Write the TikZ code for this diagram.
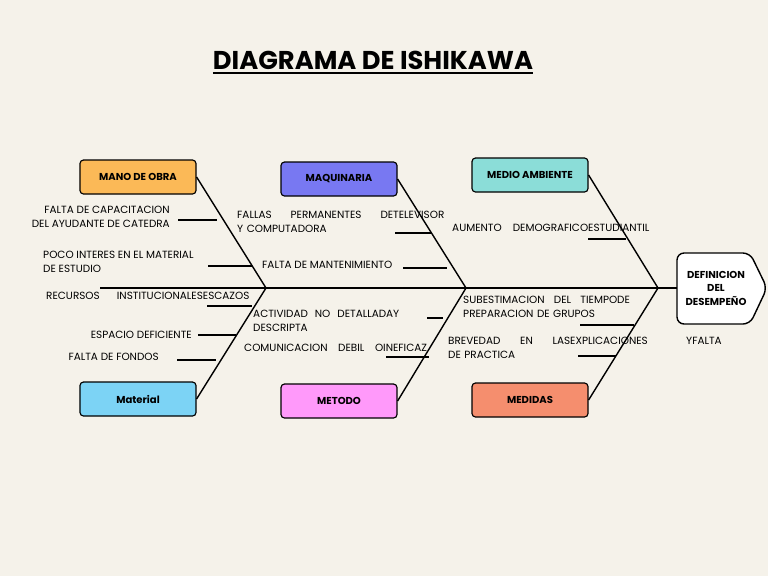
\documentclass[tikz,border=0pt]{standalone}
\usepackage{fontspec}
\setmainfont{Poppins}
\definecolor{bgcol}{HTML}{F5F2EA}
\definecolor{obra}{HTML}{FBB957}
\definecolor{maqui}{HTML}{7878F2}
\definecolor{medio}{HTML}{8BDDD8}
\definecolor{mater}{HTML}{7CD3F5}
\definecolor{meto}{HTML}{FF99FA}
\definecolor{medi}{HTML}{F58E6E}
\newcommand{\spreadline}[1]{\hbox to\linewidth{#1}}
\tikzset{
  catbox/.style={draw, line width=1pt, rounded corners=3pt, minimum width=3.48cm, minimum height=1.02cm, font=\fontsize{8.6}{10}\selectfont\bfseries},
  bone/.style={line width=1.2pt},
  tick/.style={line width=1pt},
  cause/.style={inner sep=0pt, align=left, font=\fontsize{8.9}{11.5}\selectfont}
}
\begin{document}
\begin{tikzpicture}[x=0.03cm,y=-0.03cm]
\fill[bgcol] (0,0) rectangle (768,576);
\useasboundingbox (0,0) rectangle (768,576);

\node[font=\fontsize{22}{26}\selectfont\bfseries, inner sep=0pt] (title) at (373,60) {DIAGRAMA DE ISHIKAWA};
\draw[line width=1.5pt] ([yshift=-3pt]title.south west) -- ([yshift=-3pt]title.south east);

% head
\draw[line width=1.2pt, fill=white, rounded corners=6pt] (677,253) -- (750,253) -- (767,288) -- (750,324) -- (677,324) -- cycle;
\node[align=center, font=\fontsize{8.6}{11.5}\selectfont\bfseries] (head) at (716,288) {DEFINICION\\DEL\\DESEMPEÑO};
\coordinate (headin) at (677,288);
\coordinate (tail) at (100,288);
\draw[bone] (tail) -- (headin);

% categories
\node[catbox, fill=obra] (obra) at (138,177) {MANO DE OBRA};
\node[catbox, fill=mater] (material) at (138,399) {Material};
\node[catbox, fill=maqui] (maquina) at (339,179) {MAQUINARIA};
\node[catbox, fill=meto] (metodo) at (339,401) {METODO};
\node[catbox, fill=medio] (ambiente) at (530,175) {MEDIO AMBIENTE};
\node[catbox, fill=medi] (medidas) at (530,400) {MEDIDAS};

\coordinate (j1) at (266,288);
\coordinate (j2) at (466,288);
\coordinate (j3) at (658,288);
\draw[bone] (obra.east) -- (j1) -- (material.east);
\draw[bone] (maquina.east) -- (j2) -- (metodo.east);
\draw[bone] (ambiente.east) -- (j3) -- (medidas.east);

% causes
\node[cause, anchor=north east, align=right] (c1) at (170,206) {FALTA DE CAPACITACION\\DEL AYUDANTE DE CATEDRA};
\node[cause, anchor=north west] (c2) at (43,251) {POCO INTERES EN EL MATERIAL\\DE ESTUDIO};
\node[cause, anchor=north west, text width=4.7cm] (c3) at (46,292) {\spreadline{RECURSOS\hfill INSTITUCIONALES}ESCAZOS};
\node[cause, anchor=east] (c4) at (192,335) {ESPACIO DEFICIENTE};
\node[cause, anchor=east] (c5) at (159,357) {FALTA DE FONDOS};
\node[cause, anchor=north west, text width=4.68cm] (c6) at (237,211) {\spreadline{FALLAS\hfill PERMANENTES\hfill DE}TELEVISOR Y COMPUTADORA};
\node[cause, anchor=west] (c7) at (262,265) {FALTA DE MANTENIMIENTO};
\node[cause, anchor=north west, text width=4.2cm] (c8) at (253,310) {\spreadline{ACTIVIDAD\hfill NO\hfill DETALLADA}Y DESCRIPTA};
\node[cause, anchor=north west, text width=4.17cm] (c9) at (244,344) {\spreadline{COMUNICACION\hfill DEBIL\hfill O}INEFICAZ};
\node[cause, anchor=north west, text width=4.08cm] (c10) at (452,224) {\spreadline{AUMENTO\hfill DEMOGRAFICO}ESTUDIANTIL};
\node[cause, anchor=north west, text width=4.62cm] (c11) at (463,296) {\spreadline{SUBESTIMACION\hfill DEL\hfill TIEMPO}DE PREPARACION DE GRUPOS};
\node[cause, anchor=north west, text width=3.66cm] (c12) at (448,337) {\spreadline{BREVEDAD\hfill EN\hfill LAS}\spreadline{EXPLICACIONES\hfill Y}FALTA DE PRACTICA};

% ticks
\draw[tick] (178,220) coordinate (t1) -- (217,220);
\draw[tick] (208,266) coordinate (t2) -- (252,266);
\draw[tick] (207,306) coordinate (t3) -- (252,306);
\draw[tick] (198,335) coordinate (t4) -- (236,335);
\draw[tick] (177,360) coordinate (t5) -- (216,360);
\draw[tick] (395,233) coordinate (t6) -- (431,233);
\draw[tick] (403,268) coordinate (t7) -- (447,268);
\draw[tick] (427,318) coordinate (t8) -- (443,318);
\draw[tick] (386,357) coordinate (t9) -- (429,357);
\draw[tick] (588,239) coordinate (t10) -- (626,239);
\draw[tick] (580,325) coordinate (t11) -- (634,325);
\draw[tick] (578,356) coordinate (t12) -- (616,356);
\end{tikzpicture}
\end{document}
